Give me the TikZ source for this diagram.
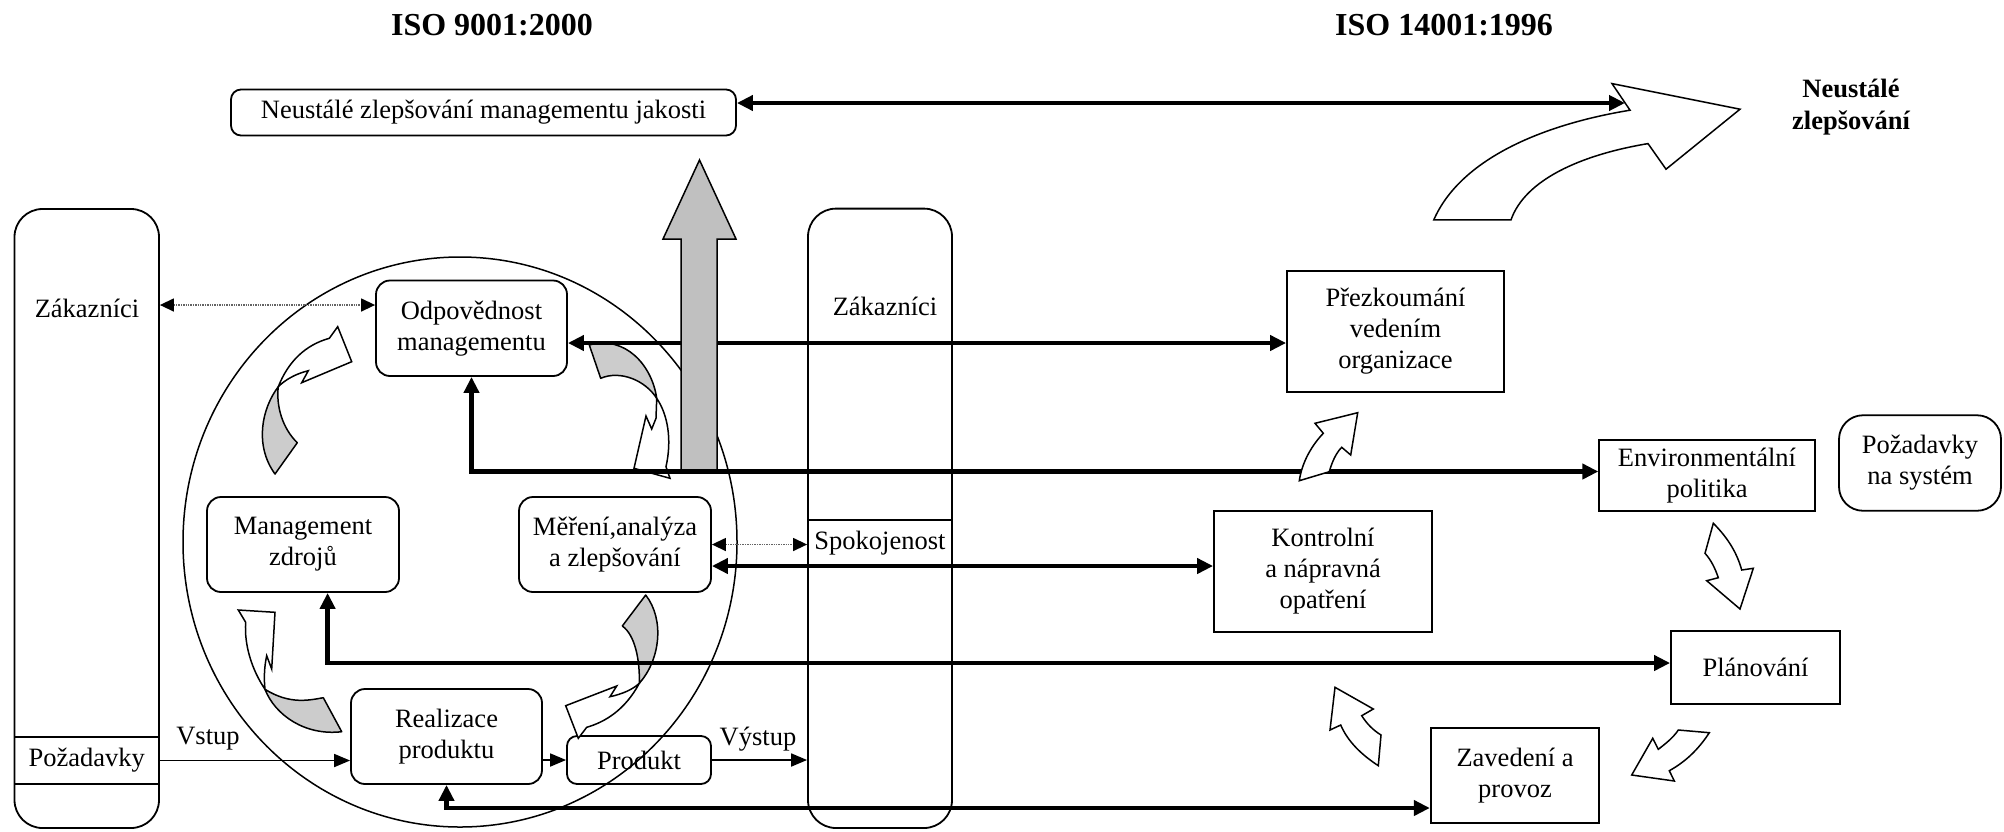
\documentclass[tikz,border=0pt]{standalone}
\usepackage{fontspec}
\setmainfont{Liberation Serif}
\usetikzlibrary{arrows.meta,shapes.geometric,calc}
\definecolor{arrgray}{RGB}{204,204,204}
\definecolor{shaftgray}{RGB}{192,192,192}
\definecolor{dotgray}{RGB}{100,100,100}
\begin{document}
\begin{tikzpicture}[x=1pt,y=-1pt,
  txt/.style={font=\fontsize{26.5}{31}\selectfont, align=center, inner sep=0pt},
  btxt/.style={font=\bfseries\fontsize{26.5}{32.5}\selectfont, align=center, inner sep=0pt},
  ttl/.style={font=\bfseries\fontsize{32}{38}\selectfont, inner sep=0pt},
  box/.style={draw, line width=1.8pt, txt},
  rbox/.style={box, rounded corners=14pt},
  column/.style={draw, line width=1.8pt, rounded corners=28pt, inner sep=0pt},
  band/.style={draw, line width=1.8pt, txt},
  thickarr/.style={line width=4.5pt, {Triangle[length=16pt,width=15pt]}-{Triangle[length=16pt,width=15pt]}},
  thinarr/.style={line width=1.8pt, -{Triangle[length=16pt,width=13pt]}},
  dotarr/.style={line width=1.4pt, dotgray, densely dotted, {Triangle[length=14pt,width=13pt,color=black]}-{Triangle[length=14pt,width=13pt,color=black]}},
  garr/.style={draw, line width=1.5pt, fill=arrgray, line join=round},
  warr/.style={draw, line width=1.5pt, fill=white, line join=miter}
]
\useasboundingbox (0,0) rectangle (2004,831);

% columns
\node[column, minimum width=144.5pt, minimum height=619pt] (zak1) at (86.75,518.5) {};
\node[band, minimum width=144.5pt, minimum height=47pt] (pozad) at (86.75,760.5) {Požadavky};
\node[txt] (zak1t) at (87,308) {Zákazníci};
\node[column, minimum width=144pt, minimum height=619.4pt] (zak2) at (880,518.3) {};
\node[band, minimum width=144pt, minimum height=46pt] (spok) at (880,543) {Spokojenost};
\node[txt] (zak2t) at (885,306) {Zákazníci};

% ISO 9001 boxes
\node[rbox, rounded corners=10pt, minimum width=505pt, minimum height=46pt] (neu) at (483.5,112.5) {Neustálé zlepšování managementu jakosti};
\node[rbox, minimum width=191pt, minimum height=95.5pt] (odp) at (471.5,328.25) {Odpovědnost\\managementu};
\node[rbox, minimum width=192pt, minimum height=95pt] (mzd) at (303,544.5) {Management\\zdrojů};
\node[rbox, minimum width=192pt, minimum height=95pt] (mer) at (615,544.5) {Měření,analýza\\a zlepšování};
\node[rbox, minimum width=191pt, minimum height=95pt] (real) at (446.5,736.5) {Realizace\\produktu};
\node[rbox, rounded corners=10pt, minimum width=144pt, minimum height=48pt] (prod) at (639,760) {Produkt};

% ISO 14001 boxes
\node[box, minimum width=217pt, minimum height=121pt] (prez) at (1395.5,331.5) {Přezkoumání\\vedením\\organizace};
\node[box, minimum width=218pt, minimum height=121pt] (kontr) at (1323,571.5) {Kontrolní\\a nápravná\\opatření};
\node[box, minimum width=215.5pt, minimum height=71pt] (env) at (1707,475.5) {Environmentální\\politika};
\node[rbox, rounded corners=24pt, minimum width=162pt, minimum height=95.5pt] (pns) at (1920,463) {Požadavky\\na systém};
\node[box, minimum width=169pt, minimum height=73pt] (plan) at (1755.5,667.5) {Plánování};
\node[box, minimum width=168.5pt, minimum height=95pt] (zav) at (1515,775.5) {Zavedení a\\provoz};

% circle
\node[draw, ellipse, line width=1.5pt, minimum width=554pt, minimum height=570pt, inner sep=0pt] (circ) at (460,542) {};

% inner curved arrows
% A
\path[garr] (278.3,386.7) .. controls (262,408) and (254,445) .. (275,474) -- (297.3,442.7) .. controls (282,428) and (276,405) .. cycle;
\path[warr] (278.3,386.7) .. controls (288,362) and (305,345) .. (329.3,338.3) -- (337.7,326.7) -- (351.7,361.7) -- (301.7,382.7) -- (308.3,370.7) .. controls (295,374) and (285,380) .. cycle;
% B
\path[garr] (589.3,345) .. controls (625,335) and (652,365) .. (656.7,398.3) .. controls (645,380) and (620,370) .. (600.7,378.3) -- cycle;
\path[warr] (656.7,398.3) -- (656,418.3) -- (651.7,429) -- (646,416) -- (634,468.3) -- (670,478.3) -- (666,466.7) .. controls (672,440) and (668,415) .. cycle;
% C
\path[garr] (645.7,595) .. controls (665,620) and (660,660) .. (639.3,683.3) .. controls (640,660) and (635,635) .. (622.3,626) -- cycle;
\path[warr] (639.3,683.3) .. controls (625,710) and (605,722) .. (586.7,727.3) -- (578.3,738.3) -- (565.7,705.7) -- (616.7,686) -- (610,696.7) .. controls (622,694) and (632,690) .. cycle;
% D
\path[warr] (265,689.3) .. controls (252,670) and (244,645) .. (245.7,622.3) -- (238.3,610) -- (275,612.3) -- (271.7,669) -- (266.7,655.7) .. controls (264,668) and (264,680) .. cycle;
\path[garr] (265,689.3) .. controls (290,705) and (310,700) .. (323.3,697.7) -- (341.7,731.7) .. controls (305,736) and (275,715) .. cycle;

% thick line odp <-> prez
\coordinate (odpE) at ([yshift=-14.75pt]odp.east);
\draw[thickarr] (odpE) -- (odpE -| prez.west);

% big gray up arrow
\path[draw, line width=1.5pt, fill=shaftgray] (681,471) -- (681,239) -- (663,239) -- (699.5,160) -- (736,239) -- (717,239) -- (717,471) -- cycle;

% other connectors
\coordinate (envW) at ([yshift=4pt]env.west);
\draw[thickarr] (odp.south) |- (envW);
\coordinate (merE) at ([yshift=-21.5pt]mer.east);
\draw[thickarr] (merE) -- (merE -| kontr.west);
\coordinate (mzS) at ([xshift=24.6pt]mzd.south);
\coordinate (planW) at ([yshift=4.5pt]plan.west);
\draw[thickarr] (mzS) |- (planW);
\coordinate (zavW) at ([yshift=-32.5pt]zav.west);
\draw[thickarr] (real.south) |- (zavW);

\draw[thinarr] (pozad.east) -- (pozad.east -| real.west);
\draw[thinarr] (real.east |- prod.west) -- (prod.west);
\draw[thinarr] (prod.east) -- (prod.east -| zak2.west);
\node[txt] (vstup) at (208,739) {Vstup};
\node[txt] (vystup) at (758,739) {Výstup};

\coordinate (odpW) at ([yshift=23.25pt]odp.west);
\draw[dotarr] (odpW -| zak1.east) -- (odpW);
\draw[dotarr] (mer.east) -- (mer.east -| zak2.west);

% right cycle arrows
\path[warr] (1299.3,480.7) -- (1329.3,471.7) .. controls (1332,462) and (1336,453) .. (1341.7,447.3) -- (1350.7,455) -- (1357.7,412.7) -- (1315,423.3) -- (1323.3,433.3) .. controls (1312,445) and (1302,462) .. cycle;
\path[warr] (1713.3,523.3) .. controls (1728,538) and (1737,553) .. (1741.7,570) -- (1753.3,568.3) -- (1740,609) -- (1706.7,580.7) -- (1718.3,577.7) .. controls (1715,568) and (1711,560) .. (1705,553.3) -- cycle;
\path[warr] (1678.3,730) -- (1709.3,732.7) .. controls (1698,750) and (1685,762) .. (1669.3,770.7) -- (1674.3,781) -- (1631.7,775) -- (1652.7,738.3) -- (1658.3,749.3) .. controls (1665,744) and (1673,738) .. cycle;
\path[warr] (1335,687.3) -- (1373.3,709) -- (1361.7,715.7) .. controls (1367,724) and (1373,730) .. (1381,735) -- (1378.3,765.7) .. controls (1362,755) and (1348,742) .. (1340.7,725) -- (1330,730) -- cycle;

% big white curved arrow
\path[warr] (1433.8,219.8) .. controls (1460,160) and (1540,125) .. (1630,110.2) -- (1612,83.6) -- (1740,109.2) -- (1666,169.2) -- (1648,143.6) .. controls (1580,155) and (1525,180) .. (1511,219.8) -- cycle;
\coordinate (neuE) at ([yshift=9.5pt]neu.east);
\coordinate (bigtip) at (1625,103);
\draw[thickarr] (neuE) -- (bigtip);

% titles
\node[ttl] (t1) at (492,25) {ISO 9001:2000};
\node[ttl] (t2) at (1444,25) {ISO 14001:1996};
\node[btxt] (t3) at (1851,107) {Neustálé\\zlepšování};
\end{tikzpicture}
\end{document}
